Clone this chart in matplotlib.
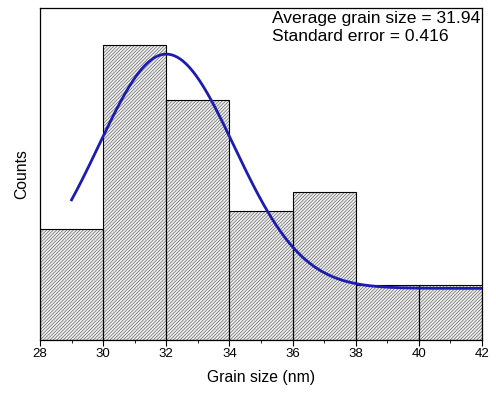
import numpy as np
import matplotlib
matplotlib.use("Agg")
import matplotlib.pyplot as plt
from matplotlib.ticker import MultipleLocator

plt.rcParams['font.family'] = ['Liberation Sans', 'DejaVu Sans']
plt.rcParams['hatch.linewidth'] = 0.5

# Histogram bins (nm) and counts per bin
bin_edges = [28, 30, 32, 34, 36, 38, 40, 42]
counts = [6, 16, 13, 7, 8, 3, 3]

# Gaussian fit parameters: offset, amplitude, centre, sigma
fit_y0 = 2.8
fit_amp = 12.7
fit_xc = 32.0
fit_sigma = 2.15
fit_range = (29, 42)

annotation = ["Average grain size = 31.94", "Standard error = 0.416"]

fig = plt.figure(figsize=(4.96, 3.96), dpi=100)
ax = fig.add_axes([0.0806, 0.1414, 0.8912, 0.8384])

lefts = bin_edges[:-1]
widths = np.diff(bin_edges)
# hatched fill (hatch takes the edge colour), then black outlines on top
ax.bar(lefts, counts, width=widths, align='edge', facecolor='#f0f0f0',
       edgecolor='#686868', linewidth=0, hatch='//////////', zorder=2)
ax.bar(lefts, counts, width=widths, align='edge', fill=False,
       edgecolor='black', linewidth=0.8, zorder=2.5)

xs = np.linspace(fit_range[0], fit_range[1], 300)
ys = fit_y0 + fit_amp * np.exp(-(xs - fit_xc) ** 2 / (2 * fit_sigma ** 2))
ax.plot(xs, ys, color='#1c1cb0', linewidth=2.0, zorder=3)

ax.set_xlim(28, 42)
ax.set_ylim(0, 18)
ax.xaxis.set_major_locator(MultipleLocator(2))
ax.xaxis.set_minor_locator(MultipleLocator(1))
ax.set_yticks([])
ax.tick_params(axis='x', which='major', direction='out', length=4, width=0.8,
               labelsize=9.5, pad=2)
ax.tick_params(axis='x', which='minor', direction='out', length=2, width=0.6)
for s in ax.spines.values():
    s.set_linewidth(0.9)

ax.set_xlabel("Grain size (nm)", fontsize=11.3, labelpad=7)
ax.set_ylabel("Counts", fontsize=11.3, labelpad=8)

ax.text(0.526, 0.99, annotation[0] + "\n" + annotation[1],
        transform=ax.transAxes, ha='left', va='top', fontsize=12.6,
        linespacing=1.2, zorder=4)

fig.savefig("out.png", dpi=100)
